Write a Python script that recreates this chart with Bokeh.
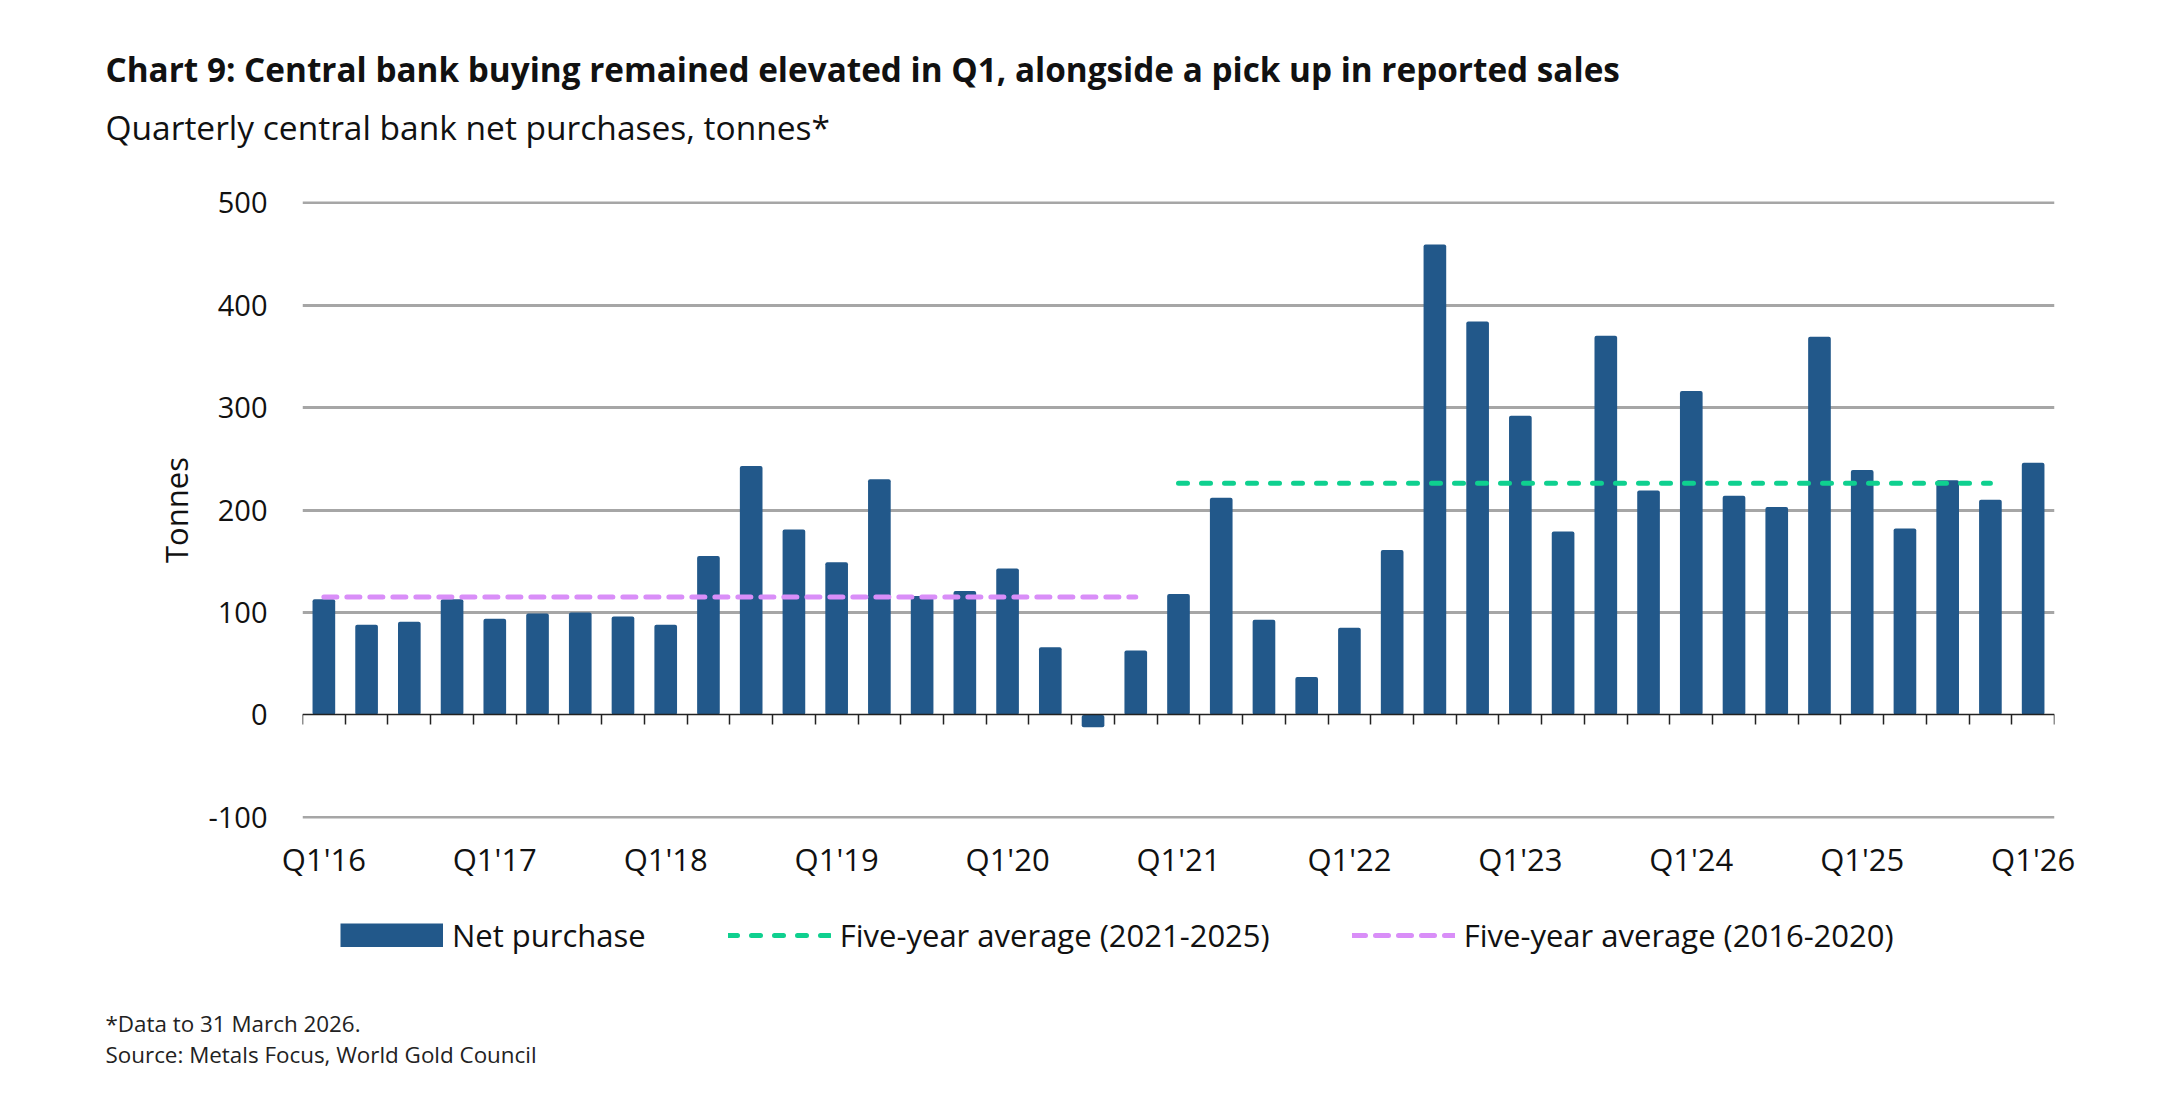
from bokeh.plotting import figure
from bokeh.layouts import column
from bokeh.models import (Range1d, FixedTicker, LinearAxis, Legend,
                          LegendItem, ColumnDataSource, CustomJSTickFormatter)
from bokeh.core.properties import value
from bokeh.embed import file_html
from bokeh.resources import INLINE

# ---------------- data ----------------
quarters = ["Q1'16", "Q2'16", "Q3'16", "Q4'16", "Q1'17", "Q2'17", "Q3'17", "Q4'17",
            "Q1'18", "Q2'18", "Q3'18", "Q4'18", "Q1'19", "Q2'19", "Q3'19", "Q4'19",
            "Q1'20", "Q2'20", "Q3'20", "Q4'20", "Q1'21", "Q2'21", "Q3'21", "Q4'21",
            "Q1'22", "Q2'22", "Q3'22", "Q4'22", "Q1'23", "Q2'23", "Q3'23", "Q4'23",
            "Q1'24", "Q2'24", "Q3'24", "Q4'24", "Q1'25", "Q2'25", "Q3'25", "Q4'25",
            "Q1'26"]
net_purchase = [113, 88, 91, 113, 94, 99, 100, 96,
                88, 155, 243, 181, 149, 230, 116, 121,
                143, 66, -12, 63, 118, 212, 93, 37,
                85, 161, 459, 384, 292, 179, 370, 219,
                316, 214, 203, 369, 239, 182, 229, 210,
                246]
avg_2016_2020 = 115
avg_2016_2020_span = ["Q1'16", "Q4'20"]
avg_2021_2025 = 226
avg_2021_2025_span = ["Q1'21", "Q4'25"]
tick_labels = ["Q1'16", "Q1'17", "Q1'18", "Q1'19", "Q1'20", "Q1'21",
               "Q1'22", "Q1'23", "Q1'24", "Q1'25", "Q1'26"]
y_ticks = [-100, 0, 100, 200, 300, 400, 500]
y_tick_labels = ["-100", "0", "100", "200", "300", "400", "500"]
legend_labels = ["Net purchase", "Five-year average (2021-2025)", "Five-year average (2016-2020)"]

title_text = "Chart 9: Central bank buying remained elevated in Q1, alongside a pick up in reported sales"
subtitle_text = "Quarterly central bank net purchases, tonnes*"
footnote_text = "*Data to 31 March 2026."
source_text = "Source: Metals Focus, World Gold Council"

# ---------------- styles / layout ----------------
FONT = "Open Sans"
BAR = "#22588a"
GREEN = "#0fd08f"
PINK = "#d98ef8"
GRID = "#a6a6a6"
TXT = "#111111"
W = 2167
TOP_H = 181
MAIN_TOP = 20
FRAME_W = 1752
FRAME_H = 617
LEFT = 302
MAIN_BOTTOM = 70
BOT_H = 1097 - TOP_H - MAIN_TOP - FRAME_H - MAIN_BOTTOM
TEXT_X = 105


def blank(height):
    f = figure(width=W, height=height, x_range=Range1d(0, W), y_range=Range1d(0, height),
               x_axis_type=None, y_axis_type=None, min_border=0, output_backend="svg",
               toolbar_location=None, outline_line_color=None, frame_align=False)
    f.grid.visible = False
    return f


# ---------------- header ----------------
head = blank(TOP_H)
head.text(x=[TEXT_X], y=[TOP_H - 68], text=[title_text], text_font=value(FONT),
          text_font_size="33.3px", text_font_style="bold", text_color=TXT,
          text_baseline="middle", text_align="left")
head.text(x=[TEXT_X], y=[TOP_H - 126], text=[subtitle_text], text_font=value(FONT),
          text_font_size="33.5px", text_font_style="normal", text_color=TXT,
          text_baseline="middle", text_align="left")

# ---------------- main chart ----------------
idx = list(range(len(quarters)))
src = ColumnDataSource(dict(x=idx, top=net_purchase, q=quarters))

p = figure(frame_width=FRAME_W, frame_height=FRAME_H, output_backend="svg", toolbar_location=None,
           x_range=Range1d(-0.5, len(quarters) - 0.5), y_range=Range1d(-101, 501),
           min_border_left=LEFT, min_border_right=W - LEFT - FRAME_W, min_border_top=MAIN_TOP,
           min_border_bottom=MAIN_BOTTOM, outline_line_color=None, frame_align=False)

p.vbar(x="x", top="top", bottom=0, width=0.53, source=src,
       fill_color=BAR, line_color=None, border_radius=2)

i0, i1 = quarters.index(avg_2016_2020_span[0]), quarters.index(avg_2016_2020_span[1])
j0, j1 = quarters.index(avg_2021_2025_span[0]), quarters.index(avg_2021_2025_span[1])
GREEN_STYLE = dict(line_color=GREEN, line_width=5, line_dash="9 14", line_cap="round")
PINK_STYLE = dict(line_color=PINK, line_width=5, line_dash="13 10", line_cap="round")
p.line(x=[j0, j1], y=[avg_2021_2025, avg_2021_2025], **GREEN_STYLE)
p.line(x=[i0, i1], y=[avg_2016_2020, avg_2016_2020], **PINK_STYLE)

p.xaxis.ticker = FixedTicker(ticks=[quarters.index(t) for t in tick_labels])
p.xaxis.major_label_overrides = {quarters.index(t): t for t in tick_labels}
p.xaxis.axis_line_color = None
p.xaxis.major_tick_line_color = None
p.xaxis.minor_tick_line_color = None
p.xaxis.major_label_standoff = 13
p.xaxis.major_label_text_font = FONT
p.xaxis.major_label_text_font_size = "31px"
p.xaxis.major_label_text_color = TXT

zero_axis = LinearAxis(fixed_location=0,
                       ticker=FixedTicker(ticks=[i - 0.5 for i in range(len(quarters) + 1)]),
                       formatter=CustomJSTickFormatter(code="return ''"),
                       axis_line_color="#222222", axis_line_width=1.5,
                       major_tick_line_color="#222222", major_tick_line_width=1.5,
                       major_tick_in=0, major_tick_out=10,
                       minor_tick_line_color=None, major_label_text_font_size="0px")
p.add_layout(zero_axis, "below")

p.yaxis.ticker = FixedTicker(ticks=y_ticks)
p.yaxis.major_label_overrides = dict(zip(y_ticks, y_tick_labels))
p.yaxis.axis_line_color = None
p.yaxis.major_tick_line_color = None
p.yaxis.minor_tick_line_color = None
p.yaxis.major_label_standoff = 29
p.yaxis.major_label_text_font = FONT
p.yaxis.major_label_text_font_size = "29px"
p.yaxis.major_label_text_color = TXT
p.yaxis.axis_label = "Tonnes"
p.yaxis.axis_label_text_font = FONT
p.yaxis.axis_label_text_font_size = "31px"
p.yaxis.axis_label_text_font_style = "normal"
p.yaxis.axis_label_text_color = TXT
p.yaxis.axis_label_standoff = 8

p.xgrid.grid_line_color = None
p.ygrid.ticker = FixedTicker(ticks=[t for t in y_ticks if t != 0])
p.ygrid.grid_line_color = GRID
p.ygrid.grid_line_width = 3

# ---------------- legend + footer ----------------
foot = blank(BOT_H)
nan = float("nan")
bar_key = foot.line(x=[nan], y=[nan], line_color=BAR, line_width=24, line_cap="butt")
green_key = foot.line(x=[nan], y=[nan], **GREEN_STYLE)
pink_key = foot.line(x=[nan], y=[nan], **PINK_STYLE)
legend = Legend(items=[LegendItem(label=legend_labels[0], renderers=[bar_key]),
                       LegendItem(label=legend_labels[1], renderers=[green_key]),
                       LegendItem(label=legend_labels[2], renderers=[pink_key])],
                orientation="horizontal", location=(340, 141),
                glyph_width=103, glyph_height=24, label_standoff=9, spacing=82,
                padding=0, margin=0, border_line_color=None,
                label_text_font=FONT, label_text_font_size="31px",
                label_text_color=TXT, background_fill_alpha=0)
foot.add_layout(legend, "center")

foot.text(x=[TEXT_X], y=[BOT_H - 135], text=[footnote_text], text_font=value(FONT),
          text_font_size="22.4px", text_color="#222222", text_baseline="middle")
foot.text(x=[TEXT_X], y=[BOT_H - 166], text=[source_text], text_font=value(FONT),
          text_font_size="22.4px", text_color="#222222", text_baseline="middle")

layout = column(head, p, foot, spacing=0)
open("out.html", "w").write(file_html(layout, INLINE))
